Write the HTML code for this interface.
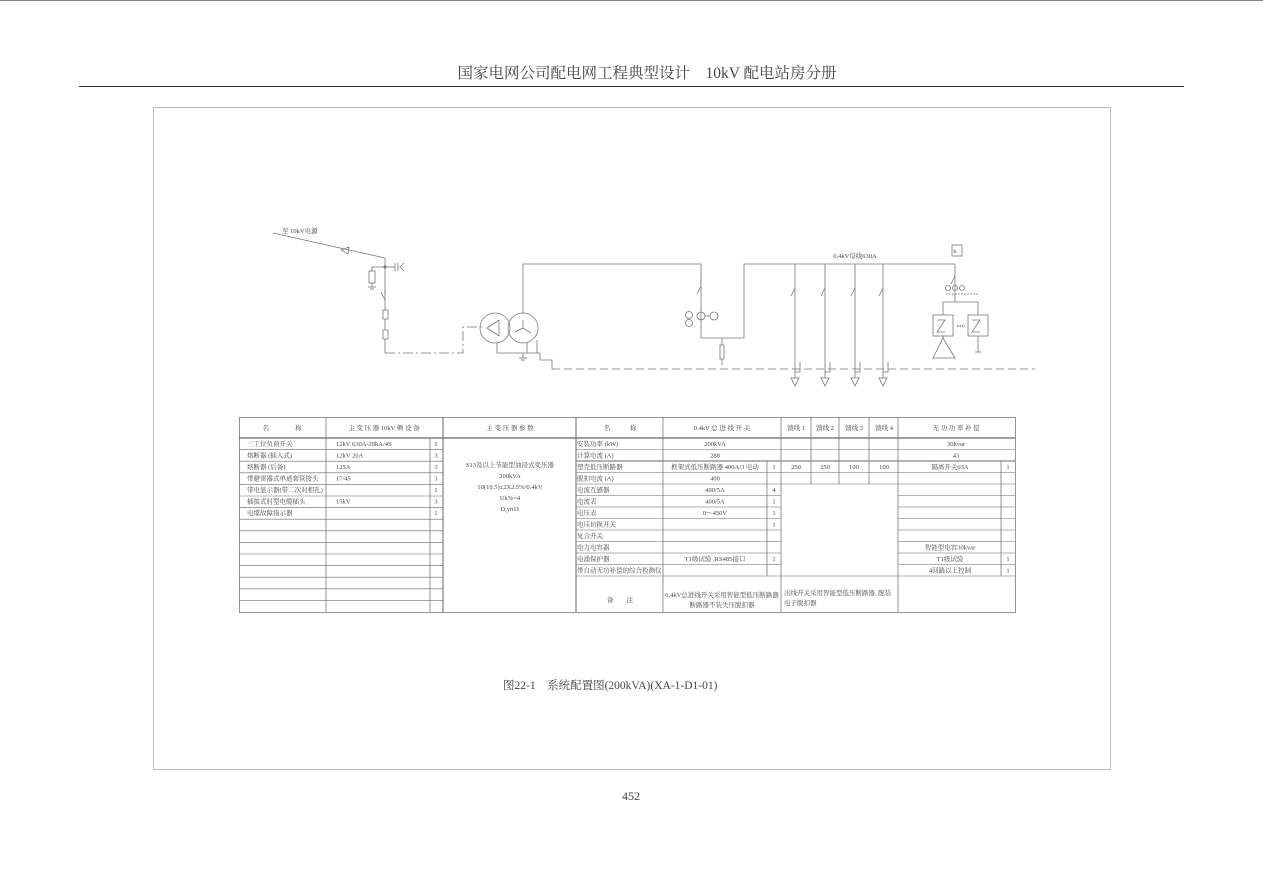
<!DOCTYPE html>
<html><head><meta charset="utf-8"><style>
html,body{margin:0;padding:0;background:#fff;}
svg{display:block;}
text{font-family:"Liberation Serif","Noto Serif CJK SC","Noto Sans CJK SC",serif;fill:#444;}
.t{font-size:6.5px;}
</style></head><body>
<svg width="1263" height="892" viewBox="0 0 1263 892" xmlns="http://www.w3.org/2000/svg">
<line x1="0" y1="0.5" x2="1263" y2="0.5" stroke="#888" stroke-width="1"/>
<text x="647" y="78" font-size="15.5" text-anchor="middle" fill="#222">国家电网公司配电网工程典型设计　10kV 配电站房分册</text>
<line x1="79" y1="86.5" x2="1184" y2="86.5" stroke="#333" stroke-width="1"/>
<rect x="153.5" y="107.5" width="957" height="662" fill="none" stroke="#bbb" stroke-width="1"/>

<g stroke="#777" stroke-width="0.8" fill="none">
<line x1="273" y1="233" x2="385" y2="258"/>
<polygon points="341,250 349,247 348,254" />
<line x1="385" y1="258" x2="385" y2="353"/>
<circle cx="385" cy="267" r="1.2" fill="#777"/>
<line x1="385" y1="267" x2="395" y2="267"/>
<line x1="395" y1="263" x2="395" y2="271"/><line x1="398" y1="263" x2="398" y2="271"/>
<polyline points="404,263 400,267 404,271"/>
<line x1="385" y1="267" x2="372" y2="267"/><line x1="372" y1="267" x2="372" y2="271"/>
<rect x="369" y="271" width="6" height="12"/>
<line x1="372" y1="283" x2="372" y2="287"/><line x1="368" y1="287" x2="376" y2="287"/><line x1="370" y1="289" x2="374" y2="289"/>
<line x1="385" y1="290" x2="385" y2="293"/><line x1="385" y1="300" x2="381" y2="292"/>
<rect x="383" y="310" width="5" height="9" fill="#fff"/>
<rect x="383" y="330" width="5" height="9" fill="#fff"/>
<polyline points="385,353 463,353 463,327 482,327" stroke-dasharray="10,3,2,3"/>
<circle cx="495" cy="328" r="15"/>
<circle cx="523" cy="328" r="15"/>
<polyline points="499,320 487,328 499,336 499,320"/>
<line x1="523" y1="328" x2="523" y2="320"/><line x1="523" y1="328" x2="515" y2="332"/><line x1="523" y1="328" x2="531" y2="333"/>
<polyline points="497,343 497,353 540,353 540,360 552,360 552,369"/>
<line x1="527" y1="343" x2="527" y2="353"/><line x1="537" y1="340" x2="537" y2="353"/>
<line x1="523" y1="353" x2="523" y2="358"/><line x1="519" y1="358" x2="527" y2="358"/><line x1="521" y1="360" x2="525" y2="360"/>
<polyline points="523,313 523,264 701,264 701,338 744,338 744,264 955,264"/>
<line x1="701" y1="278" x2="701" y2="281"/>
<line x1="701" y1="286" x2="697" y2="294"/>
<circle cx="701" cy="316" r="4"/><circle cx="714" cy="316" r="4"/><circle cx="689" cy="315" r="3.5"/><circle cx="689" cy="323" r="3.5"/>
<line x1="705" y1="316" x2="710" y2="316"/>
<line x1="722" y1="338" x2="722" y2="365"/><rect x="720" y="345" width="4" height="14" fill="#fff"/>
<line x1="552" y1="369" x2="1035" y2="369" stroke-dasharray="8,4"/>
<g>
<line x1="795" y1="264" x2="795" y2="378"/><line x1="795" y1="288" x2="791" y2="296"/><polygon points="791,378 799,378 795,386"/><polyline points="795,372 800,372 800,362"/>
<line x1="825" y1="264" x2="825" y2="378"/><line x1="825" y1="288" x2="821" y2="296"/><polygon points="821,378 829,378 825,386"/><polyline points="825,372 830,372 830,362"/>
<line x1="855" y1="264" x2="855" y2="378"/><line x1="855" y1="288" x2="851" y2="296"/><polygon points="851,378 859,378 855,386"/><polyline points="855,372 860,372 860,362"/>
<line x1="883" y1="264" x2="883" y2="378"/><line x1="883" y1="288" x2="879" y2="296"/><polygon points="879,378 887,378 883,386"/><polyline points="883,372 888,372 888,362"/>
</g>
<rect x="952" y="245" width="10" height="11"/>
<line x1="955" y1="264" x2="955" y2="302"/><line x1="955" y1="276" x2="951" y2="284"/>
<circle cx="955" cy="288" r="2.5"/><circle cx="948" cy="288" r="2.5"/><circle cx="962" cy="288" r="2.5"/>
<line x1="946" y1="294" x2="978" y2="294" stroke-dasharray="2,1"/>
<polyline points="943,315 943,302 978,302 978,315"/>
<rect x="933" y="315" width="20" height="21"/><rect x="968" y="315" width="20" height="21"/>
<polyline points="937,320 945,320 937,332 945,332"/><polyline points="972,320 980,320 972,332 980,332"/>
<line x1="957" y1="326" x2="965" y2="326" stroke-dasharray="1.5,1" stroke-width="1.5"/>
<line x1="943" y1="336" x2="943" y2="339"/><polygon points="943,338 933,358 955,358"/>
<line x1="978" y1="336" x2="978" y2="352"/><line x1="975" y1="352" x2="981" y2="352"/>
</g>
<text x="282" y="233" class="t">至 10kV电源</text>
<text x="855" y="258" class="t" text-anchor="middle">0.4kV母线630A</text>
<text x="955" y="253" font-size="5" text-anchor="middle">K</text>

<g stroke="#666" stroke-width="0.7" fill="none">
<rect x="239.5" y="417.5" width="776" height="195"/>
<line x1="239" y1="438" x2="1015" y2="438" stroke-width="1.2"/>
<line x1="326" y1="417" x2="326" y2="612"/>
<line x1="430" y1="438" x2="430" y2="612"/>
<line x1="443" y1="417" x2="443" y2="612" stroke-width="1"/>
<line x1="576" y1="417" x2="576" y2="612" stroke-width="1"/>
<line x1="663" y1="417" x2="663" y2="612"/>
<line x1="767" y1="461" x2="767" y2="576"/>
<line x1="781" y1="417" x2="781" y2="612"/>
<line x1="811" y1="417" x2="811" y2="484"/>
<line x1="839" y1="417" x2="839" y2="484"/>
<line x1="869" y1="417" x2="869" y2="484"/>
<line x1="898" y1="417" x2="898" y2="612"/>
<line x1="1001" y1="461" x2="1001" y2="576"/>
</g>
<g stroke="#666" stroke-width="0.6">
<line x1="239" y1="449.6" x2="443" y2="449.6"/><line x1="239" y1="461.2" x2="443" y2="461.2"/><line x1="239" y1="472.8" x2="443" y2="472.8"/><line x1="239" y1="484.4" x2="443" y2="484.4"/><line x1="239" y1="496" x2="443" y2="496"/><line x1="239" y1="507.6" x2="443" y2="507.6"/><line x1="239" y1="519.2" x2="443" y2="519.2"/><line x1="239" y1="530.8" x2="443" y2="530.8"/><line x1="239" y1="542.4" x2="443" y2="542.4"/><line x1="239" y1="554" x2="443" y2="554"/><line x1="239" y1="565.6" x2="443" y2="565.6"/><line x1="239" y1="577.2" x2="443" y2="577.2"/><line x1="239" y1="588.8" x2="443" y2="588.8"/><line x1="239" y1="600.4" x2="443" y2="600.4"/>
<line x1="576" y1="449.5" x2="1015" y2="449.5"/><line x1="576" y1="461" x2="1015" y2="461" stroke-width="1"/><line x1="576" y1="472.5" x2="1015" y2="472.5"/><line x1="576" y1="484" x2="1015" y2="484"/>
<line x1="576" y1="495.5" x2="781" y2="495.5"/><line x1="576" y1="507" x2="781" y2="507"/><line x1="576" y1="518.5" x2="781" y2="518.5"/><line x1="576" y1="530" x2="781" y2="530"/><line x1="576" y1="541.5" x2="781" y2="541.5"/><line x1="576" y1="553" x2="781" y2="553"/><line x1="576" y1="564.5" x2="781" y2="564.5"/><line x1="576" y1="576" x2="1015" y2="576"/>
<line x1="898" y1="495.5" x2="1015" y2="495.5"/><line x1="898" y1="507" x2="1015" y2="507"/><line x1="898" y1="518.5" x2="1015" y2="518.5"/><line x1="898" y1="530" x2="1015" y2="530"/><line x1="898" y1="541.5" x2="1015" y2="541.5"/><line x1="898" y1="553" x2="1015" y2="553"/><line x1="898" y1="564.5" x2="1015" y2="564.5"/>
</g>
<g class="t">
<text x="282" y="430" text-anchor="middle" class="t">名　　　　称</text>
<text x="384" y="430" text-anchor="middle" class="t">主 变 压 器  10kV 侧 设 备</text>
<text x="510" y="430" text-anchor="middle" class="t">主 变 压 器 参 数</text>
<text x="620" y="430" text-anchor="middle" class="t">名　　　称</text>
<text x="722" y="430" text-anchor="middle" class="t">0.4kV 总 进 线 开 关</text>
<text x="796" y="430" text-anchor="middle" class="t">馈线 1</text><text x="825" y="430" text-anchor="middle" class="t">馈线 2</text><text x="854" y="430" text-anchor="middle" class="t">馈线 3</text><text x="884" y="430" text-anchor="middle" class="t">馈线 4</text>
<text x="956" y="430" text-anchor="middle" class="t">无 功 功 率 补 偿</text>

<text x="247" y="446" class="t">三工位负荷开关</text><text x="336" y="446" class="t">12kV  630A-20kA/4S</text><text x="436" y="446" class="t" text-anchor="middle">1</text>
<text x="247" y="457.5" class="t">熔断器 (插入式)</text><text x="336" y="457.5" class="t">12kV  20A</text><text x="436" y="457.5" class="t" text-anchor="middle">3</text>
<text x="247" y="469" class="t">熔断器 (后备)</text><text x="336" y="469" class="t">125A</text><text x="436" y="469" class="t" text-anchor="middle">3</text>
<text x="247" y="480.5" class="t">带避雷器式单通套管接头</text><text x="336" y="480.5" class="t">17/45</text><text x="436" y="480.5" class="t" text-anchor="middle">3</text>
<text x="247" y="492" class="t">带电显示器(带二次对相孔)</text><text x="436" y="492" class="t" text-anchor="middle">1</text>
<text x="247" y="503.5" class="t">插拔式肘型电缆插头</text><text x="336" y="503.5" class="t">15kV</text><text x="436" y="503.5" class="t" text-anchor="middle">3</text>
<text x="247" y="515" class="t">电缆故障指示器</text><text x="436" y="515" class="t" text-anchor="middle">1</text>

<text x="510" y="467" class="t" text-anchor="middle">S13及以上节能型油浸式变压器</text>
<text x="510" y="478" class="t" text-anchor="middle">200kVA</text>
<text x="510" y="489" class="t" text-anchor="middle">10(10.5)±2X2.5%/0.4kV</text>
<text x="510" y="500" class="t" text-anchor="middle">Uk%=4</text>
<text x="510" y="511" class="t" text-anchor="middle">D,yn11</text>

<text x="577" y="446" class="t">安装功率 (kW)</text><text x="715" y="446" class="t" text-anchor="middle">200kVA</text><text x="956" y="446" class="t" text-anchor="middle">30kvar</text>
<text x="577" y="457.5" class="t">计算电流 (A)</text><text x="715" y="457.5" class="t" text-anchor="middle">288</text><text x="956" y="457.5" class="t" text-anchor="middle">43</text>
<text x="577" y="469" class="t">塑壳低压断路器</text><text x="715" y="469" class="t" text-anchor="middle">框架式低压断路器 400A/3 电动</text><text x="774" y="469" class="t" text-anchor="middle">1</text>
<text x="796" y="469" class="t" text-anchor="middle">250</text><text x="825" y="469" class="t" text-anchor="middle">250</text><text x="854" y="469" class="t" text-anchor="middle">100</text><text x="884" y="469" class="t" text-anchor="middle">100</text>
<text x="950" y="469" class="t" text-anchor="middle">隔离开关63A</text><text x="1008" y="469" class="t" text-anchor="middle">1</text>
<text x="577" y="480.5" class="t">脱扣电流 (A)</text><text x="715" y="480.5" class="t" text-anchor="middle">400</text>
<text x="577" y="492" class="t">电流互感器</text><text x="715" y="492" class="t" text-anchor="middle">400/5A</text><text x="774" y="492" class="t" text-anchor="middle">4</text>
<text x="577" y="503.5" class="t">电流表</text><text x="715" y="503.5" class="t" text-anchor="middle">400/5A</text><text x="774" y="503.5" class="t" text-anchor="middle">1</text>
<text x="577" y="515" class="t">电压表</text><text x="715" y="515" class="t" text-anchor="middle">0～450V</text><text x="774" y="515" class="t" text-anchor="middle">1</text>
<text x="577" y="526.5" class="t">电压切换开关</text><text x="774" y="526.5" class="t" text-anchor="middle">1</text>
<text x="577" y="538" class="t">复合开关</text>
<text x="577" y="549.5" class="t">电力电容器</text><text x="950" y="549.5" class="t" text-anchor="middle">智能型电容30kvar</text>
<text x="577" y="561" class="t">电涌保护器</text><text x="715" y="561" class="t" text-anchor="middle">T1级试验 ,RS485接口</text><text x="774" y="561" class="t" text-anchor="middle">1</text><text x="950" y="561" class="t" text-anchor="middle">T1级试验</text><text x="1008" y="561" class="t" text-anchor="middle">1</text>
<text x="577" y="572.5" class="t">带自动无功补偿的综合检测仪</text><text x="950" y="572.5" class="t" text-anchor="middle">4回路以上控制</text><text x="1008" y="572.5" class="t" text-anchor="middle">1</text>
<text x="620" y="602" class="t" text-anchor="middle">备　　注</text>
<text x="722" y="597" class="t" text-anchor="middle">0.4kV总进线开关采用智能型低压断路器</text>
<text x="722" y="607" class="t" text-anchor="middle">断路器不装失压脱扣器</text>
<text x="784" y="595" class="t">出线开关采用智能型低压断路器, 配装</text>
<text x="784" y="605" class="t">电子脱扣器</text>
</g>

<text x="503" y="689" font-size="11.5" fill="#333">图22-1　系统配置图(200kVA)(XA-1-D1-01)</text>
<text x="631" y="800" font-size="12" text-anchor="middle" fill="#222">452</text>
</svg>
</body></html>
